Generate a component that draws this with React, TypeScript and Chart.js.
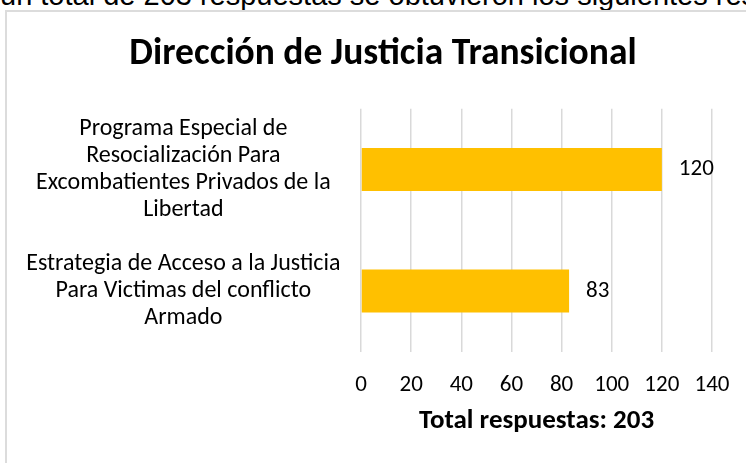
import React, { useEffect, useRef } from "react";
import { Chart, registerables } from "chart.js";

Chart.register(...registerables);

const introText = "un total de 203 respuestas se obtuvieron los siguientes resultados:";
const chartTitle = "Dirección de Justicia Transicional";
const axisTitle = "Total respuestas: 203";
const categories: string[][] = [
  ["Programa Especial de", "Resocialización Para", "Excombatientes Privados de la", "Libertad"],
  ["Estrategia de Acceso a la Justicia", "Para Victimas del conflicto", "Armado"],
];
const values: number[] = [120, 83];
const xMin = 0;
const xMax = 140;
const xStep = 20;

const FONT = "Carlito, Lato, 'Open Sans', sans-serif";

const dataLabelPlugin = {
  id: "dataLabels",
  afterDatasetsDraw(chart: any) {
    const ctx = chart.ctx;
    const meta = chart.getDatasetMeta(0);
    ctx.save();
    ctx.font = `23px ${FONT}`;
    ctx.fillStyle = "#000000";
    ctx.textAlign = "left";
    ctx.textBaseline = "middle";
    meta.data.forEach((el: any, i: number) => {
      ctx.fillText(String(values[i]), el.x + 17, el.y);
    });
    ctx.restore();
  },
};

export default function App() {
  const ref = useRef<HTMLCanvasElement>(null);
  useEffect(() => {
    if (!ref.current) return;
    const chart = new Chart(ref.current, {
      type: "bar",
      data: {
        labels: categories,
        datasets: [
          {
            data: values,
            backgroundColor: "#FFC000",
            borderWidth: 0,
            categoryPercentage: 0.5,
            barPercentage: 0.708,
          },
        ],
      },
      options: {
        indexAxis: "y",
        responsive: false,
        animation: false,
        devicePixelRatio: 1,
        layout: { padding: { top: 108.75, right: 34, bottom: 0, left: 0 } },
        plugins: {
          legend: { display: false },
          title: { display: false },
          tooltip: { enabled: false },
        },
        scales: {
          x: {
            min: xMin,
            max: xMax,
            ticks: {
              stepSize: xStep,
              color: "#000000",
              font: { family: FONT, size: 23 },
              padding: 20,
              maxRotation: 0,
            },
            grid: { color: "#d9d9d9", lineWidth: 1.5, drawTicks: false },
            border: { display: false },
            title: {
              display: true,
              text: axisTitle,
              color: "#000000",
              font: { family: FONT, size: 27, weight: "bold" },
              padding: { top: 26, bottom: 26 },
            },
            afterFit(scale: any) {
              scale.height = 111.25;
              scale.paddingRight = 0;
              scale.paddingLeft = 0;
            },
          },
          y: {
            ticks: {
              color: "#000000",
              font: { family: FONT, size: 24, lineHeight: 1.125 },
              crossAlign: "center",
              padding: 20.5,
            },
            grid: { display: false, drawTicks: false },
            border: { display: false },
            afterFit(scale: any) {
              scale.width = 361;
            },
          },
        },
      },
      plugins: [dataLabelPlugin],
    });
    return () => chart.destroy();
  }, []);

  return (
    <div
      style={{
        position: "fixed",
        left: 0,
        top: 0,
        width: 746,
        height: 463,
        overflow: "hidden",
        background: "#ffffff",
      }}
    >
      <div
        style={{
          position: "absolute",
          left: 0,
          top: -19.5,
          whiteSpace: "nowrap",
          fontFamily: "'Liberation Sans', Arial, sans-serif",
          fontSize: 29,
          lineHeight: "29px",
          color: "#000",
        }}
      >
        {introText}
      </div>
      <div
        style={{
          position: "absolute",
          left: 5,
          top: 10,
          width: 800,
          height: 500,
          border: "2px solid #dcdcdc",
          boxSizing: "border-box",
        }}
      />
      <canvas
        ref={ref}
        width={746}
        height={463}
        style={{ position: "absolute", left: 0, top: 0, width: 746, height: 463 }}
      />
      <div
        style={{
          position: "absolute",
          left: 0,
          width: 766,
          top: 30,
          textAlign: "center",
          fontFamily: FONT,
          fontWeight: "bold",
          fontSize: 37.5,
          lineHeight: "42px",
          color: "#000",
          whiteSpace: "nowrap",
        }}
      >
        {chartTitle}
      </div>
    </div>
  );
}
